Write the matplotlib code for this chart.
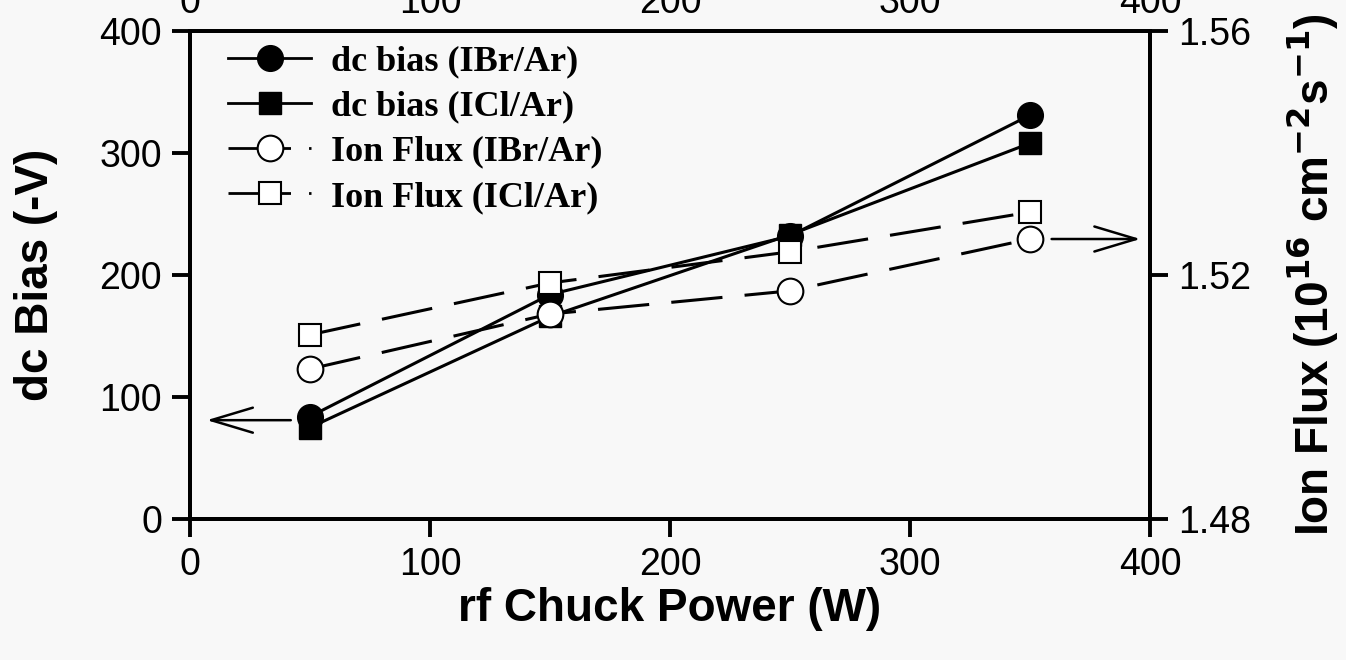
import matplotlib
matplotlib.use("Agg")
import matplotlib.pyplot as plt
from matplotlib.lines import Line2D

# rf chuck power and measured dc bias / ion flux
power = [50, 150, 250, 350]
dc_ibr = [84, 184, 232, 331]
dc_icl = [75, 166, 233, 308]
flux_ibr = [1.5046, 1.5136, 1.5174, 1.5259]
flux_icl = [1.5102, 1.5187, 1.5238, 1.5303]

x_ticks = [0, 100, 200, 300, 400]
dc_ticks = [0, 100, 200, 300, 400]
flux_ticks = [1.48, 1.52, 1.56]

legend_labels = ["dc bias (IBr/Ar)", "dc bias (ICl/Ar)",
                 "Ion Flux (IBr/Ar)", "Ion Flux (ICl/Ar)"]

plt.rcParams["font.family"] = ["Liberation Sans", "DejaVu Sans"]
plt.rcParams["lines.scale_dashes"] = False

bg = "#f8f8f8"
fig = plt.figure(figsize=(13.46, 6.6), dpi=100, facecolor=bg)
ax = fig.add_axes([190 / 1346, 1 - 519 / 660, 960 / 1346, 488 / 660])
ax.set_facecolor(bg)
ax2 = ax.twinx()

lw_spine = 2.8
tick_kw = dict(direction="out", length=13, width=lw_spine, labelsize=27, pad=7)
for a in (ax, ax2):
    for s in a.spines.values():
        s.set_linewidth(lw_spine)

# dc bias on the left axis
ax.plot(power, dc_ibr, color="black", lw=2.2, marker="o", ms=18.5,
        mfc="black", mec="black", zorder=3)
ax.plot(power, dc_icl, color="black", lw=2.2, marker="s", ms=16.5,
        mfc="black", mec="black", zorder=4)

# ion flux on the right axis
dash = (0, (37, 16))
ax2.plot(power, flux_ibr, color="black", lw=2.2, ls=dash, marker="o", ms=18.5,
         mfc="white", mec="black", mew=1.5)
ax2.plot(power, flux_icl, color="black", lw=2.2, ls=dash, marker="s", ms=16.5,
         mfc="white", mec="black", mew=1.5)

ax.set_xlim(0, 400)
ax.set_ylim(0, 400)
ax2.set_ylim(1.48, 1.56)
ax.set_xticks(x_ticks)
ax.set_yticks(dc_ticks)
ax2.set_yticks(flux_ticks)
ax2.set_yticklabels([f"{v:.2f}" for v in flux_ticks])
ax.tick_params(**tick_kw)
ax2.tick_params(**tick_kw)

top = ax.secondary_xaxis("top")
top.set_xticks(x_ticks)
top.tick_params(length=0, labelsize=27, pad=7)
top.spines["top"].set_linewidth(lw_spine)

ax.set_xlabel("rf Chuck Power (W)", fontsize=33, fontweight="bold", labelpad=3)
ax.set_ylabel("dc Bias (-V)", fontsize=33, fontweight="bold", labelpad=30)
ax2.set_ylabel(r"Ion Flux (10$^{\mathbf{16}}$ cm$^{\mathbf{-2}}$s$^{\mathbf{-1}}$)",
               fontsize=33, fontweight="bold", labelpad=24)

# arrows pointing at the axis each group belongs to
arrow = dict(arrowstyle="->,head_length=1.5,head_width=0.45", lw=1.8,
             color="black", shrinkA=0, shrinkB=0, mutation_scale=20)
ax.annotate("", xy=(7, 81), xytext=(42, 81), arrowprops=arrow)
ax2.annotate("", xy=(396, 1.5259), xytext=(359, 1.5259), arrowprops=arrow)

# legend handles; the ion flux ones end with a dot like a dashed line
handles = [
    Line2D([], [], color="black", lw=2, marker="o", ms=18.5, mfc="black"),
    Line2D([], [], color="black", lw=2, marker="s", ms=16.5, mfc="black"),
    Line2D([], [], color="black", lw=2, ls=(0, (45, 13, 2, 40)), marker="o",
           ms=18.5, mfc="white", mew=1.5),
    Line2D([], [], color="black", lw=2, ls=(0, (45, 13, 2, 40)), marker="s",
           ms=16.5, mfc="white", mew=1.5),
]
leg = ax2.legend(handles, legend_labels, loc="upper left",
                 bbox_to_anchor=(0.04, 0.971), frameon=False,
                 prop={"family": "Liberation Serif", "weight": "bold", "size": 26},
                 handlelength=2.3, handletextpad=0.55, labelspacing=0.33,
                 borderpad=0, borderaxespad=0, numpoints=1)

fig.savefig("out.png", dpi=100, facecolor=bg)
